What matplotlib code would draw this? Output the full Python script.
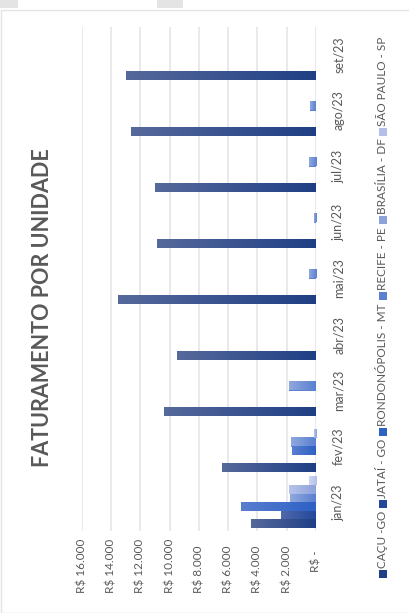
import numpy as np
import matplotlib
matplotlib.use("Agg")
import matplotlib.pyplot as plt
from matplotlib.colors import LinearSegmentedColormap
from matplotlib.patches import Rectangle

plt.rcParams['font.family'] = ['Lato', 'DejaVu Sans']

# dados (R$)
meses = ["jan/23", "fev/23", "mar/23", "abr/23", "mai/23", "jun/23", "jul/23", "ago/23", "set/23"]
unidades = ["CAÇU -GO", "JATAÍ - GO", "RONDONÓPOLIS - MT", "RECIFE - PE", "BRASÍLIA - DF", "SÃO PAULO - SP"]
cacu = [4420, 6400, 10380, 9490, 13530, 10860, 10990, 12640, 12980]
jatai = [2360, 0, 0, 0, 0, 0, 0, 0, 0]
rondonopolis = [5100, 1610, 0, 0, 0, 0, 0, 0, 0]
recife = [1750, 1680, 1820, 0, 510, 170, 510, 380, 0]
brasilia = [1820, 170, 0, 0, 0, 0, 0, 0, 0]
sao_paulo = [510, 0, 0, 0, 0, 0, 0, 0, 0]
valores_eixo = [0, 2000, 4000, 6000, 8000, 10000, 12000, 14000, 16000]
rotulos_eixo = ["R$ -", "R$ 2.000", "R$ 4.000", "R$ 6.000", "R$ 8.000",
                "R$ 10.000", "R$ 12.000", "R$ 14.000", "R$ 16.000"]

series = [cacu, jatai, rondonopolis, recife, brasilia, sao_paulo]
# (ponta escura junto ao eixo, ponta clara)
cores = [("#1f3f85", "#56699b"), ("#23489b", "#5069aa"), ("#2d61c4", "#5a7ed0"),
         ("#5a80d0", "#91a8df"), ("#8da2dc", "#b7c3e9"), ("#b2bfe8", "#cfd7f1")]
cinza = "#595959"

W, H = 410, 613
fig = plt.figure(figsize=(W / 100, H / 100), dpi=100)
ax = fig.add_axes([82 / W, (H - 530.5) / H, (316 - 82) / W, 504 / H])

y = np.arange(len(meses))
h = 8.5 / 56
for i, (vals, (c1, c2)) in enumerate(zip(series, cores)):
    bars = ax.barh(y + (i - 2.5) * h, vals, height=h, color=c1, zorder=2)
    cmap = LinearSegmentedColormap.from_list("g%d" % i, [c1, c2])
    grad = np.linspace(0, 1, 128).reshape(1, -1)
    for b in bars:
        if b.get_width() <= 0:
            continue
        x0, y0 = b.get_x(), b.get_y()
        ax.imshow(grad, cmap=cmap, aspect="auto", zorder=3,
                  extent=[x0, x0 + b.get_width(), y0, y0 + b.get_height()])

ax.set_xlim(16000, 0)
ax.set_ylim(-0.5, len(meses) - 0.5)
ax.set_xticks(valores_eixo)
ax.tick_params(axis="x", length=0, labelbottom=False)
ax.grid(axis="x", color="#e0e3e9", lw=1.1, zorder=0)
for s in ax.spines.values():
    s.set_visible(False)

# rótulos de valor (girados, alinhados pela base)
for v, lab in zip(valores_eixo, rotulos_eixo):
    yb = -0.082 if v == 0 else -0.124
    ax.text(v, yb, lab, transform=ax.get_xaxis_transform(), rotation=90,
            ha="center", va="bottom", fontsize=8.5, color=cinza)

# meses à direita
ax.yaxis.tick_right()
ax.set_yticks(y)
ax.set_yticklabels(meses, rotation=90, va="center", fontsize=9, color=cinza)
ax.tick_params(axis="y", length=0, pad=12)

# título
fig.text(43 / W, 1 - 308 / H, "FATURAMENTO POR UNIDADE", rotation=90,
         ha="center", va="center", fontsize=15.5, fontweight="bold", color=cinza)

# legenda montada à mão (vertical)
fig.canvas.draw()
r = fig.canvas.get_renderer()
ypos = H - 578
xc = 383
for nome, (c1, c2) in zip(unidades, cores):
    fig.patches.append(Rectangle((xc - 4, ypos), 8, 8, transform=None,
                                 facecolor=c1, edgecolor="none"))
    t = fig.text(xc / W, (ypos + 10) / H, nome, rotation=90, ha="center",
                 va="bottom", fontsize=8.5, color=cinza)
    bb = t.get_window_extent(r)
    ypos = bb.y1 + 3

# moldura e abas do Excel
fig.patches.append(Rectangle((0.5, 0.5), W - 1, H - 10, transform=None,
                             fill=False, edgecolor="#e3e3e3", lw=1))
fig.patches.append(Rectangle((0, H - 8), 18, 8, transform=None, facecolor="#e4e4e4", edgecolor="none"))
fig.patches.append(Rectangle((157, H - 8), 26, 8, transform=None, facecolor="#e4e4e4", edgecolor="none"))

fig.savefig("out.png", dpi=100)
